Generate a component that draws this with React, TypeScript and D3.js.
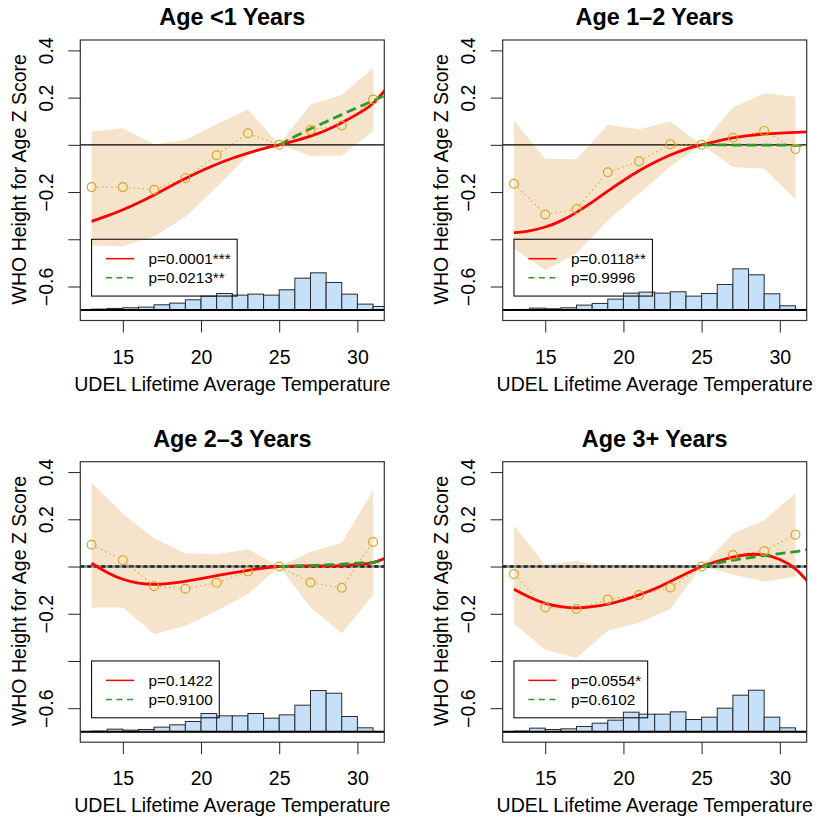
import React, { useRef, useEffect } from "react";
import * as d3 from "d3";

// temperatures of the binned means (every 2 degrees)
const binTemps = [13, 15, 17, 19, 21, 23, 25, 27, 29, 31];
const curveTemps = [13, 14, 15, 16, 17, 18, 19, 20, 21, 22, 23, 24, 25, 26, 27, 28, 29, 30, 31, 32];
const linearTemps = [25, 26, 27, 28, 29, 30, 31, 32];
// left edges of the 1-degree histogram bins
const histBins = [12, 13, 14, 15, 16, 17, 18, 19, 20, 21, 22, 23, 24, 25, 26, 27, 28, 29, 30, 31];

const titles = ["Age <1 Years", "Age 1\u20132 Years", "Age 2\u20133 Years", "Age 3+ Years"];
const pCubic = ["p=0.0001***", "p=0.0118**", "p=0.1422", "p=0.0554*"];
const pLinear = ["p=0.0213**", "p=0.9996", "p=0.9100", "p=0.6102"];

// binned means
const means1 = [-0.179, -0.179, -0.19, -0.141, -0.044, 0.049, 0, 0.063, 0.082, 0.192];
const means2 = [-0.165, -0.295, -0.272, -0.116, -0.07, 0.003, 0, 0.03, 0.059, -0.018];
const means3 = [0.092, 0.027, -0.083, -0.094, -0.069, -0.021, 0, -0.068, -0.09, 0.104];
const means4 = [-0.032, -0.173, -0.18, -0.14, -0.121, -0.089, 0, 0.049, 0.066, 0.135];

// confidence band
const hi1 = [0.056, 0.07, 0.003, 0.022, 0.088, 0.15, 0, 0.171, 0.211, 0.327];
const lo1 = [-0.426, -0.43, -0.388, -0.306, -0.179, -0.044, 0, -0.046, -0.046, 0.057];
const hi2 = [0.103, -0.059, -0.061, 0.085, 0.066, 0.099, 0, 0.159, 0.218, 0.204];
const lo2 = [-0.44, -0.53, -0.46, -0.32, -0.207, -0.092, 0, -0.094, -0.101, -0.232];
const hi3 = [0.355, 0.224, 0.12, 0.056, 0.052, 0.073, 0, 0.063, 0.101, 0.323];
const lo3 = [-0.173, -0.173, -0.286, -0.251, -0.187, -0.117, 0, -0.173, -0.283, -0.121];
const hi4 = [0.174, 0.007, 0.025, -0.006, -0.002, 0.004, 0, 0.14, 0.196, 0.31];
const lo4 = [-0.242, -0.352, -0.387, -0.272, -0.238, -0.18, 0, -0.034, -0.064, -0.042];

// cubic fit (red)
const cubic1 = [-0.324, -0.301, -0.275, -0.245, -0.212, -0.177, -0.143, -0.111, -0.082, -0.057, -0.035, -0.016, 0, 0.017, 0.037, 0.062, 0.094, 0.13, 0.176, 0.25];
const cubic2 = [-0.372, -0.364, -0.348, -0.322, -0.286, -0.243, -0.196, -0.151, -0.11, -0.074, -0.043, -0.018, 0, 0.016, 0.029, 0.039, 0.046, 0.05, 0.053, 0.055];
const cubic3 = [0.014, -0.025, -0.054, -0.07, -0.075, -0.071, -0.063, -0.051, -0.039, -0.027, -0.016, -0.007, 0, 0.002, 0.003, 0.003, 0.004, 0.009, 0.017, 0.042];
const cubic4 = [-0.096, -0.13, -0.156, -0.17, -0.175, -0.17, -0.159, -0.142, -0.12, -0.094, -0.063, -0.031, 0, 0.022, 0.04, 0.051, 0.049, 0.03, -0.01, -0.08];

// linear fit above 25 (green)
const linear1 = [0, 0.035, 0.068, 0.098, 0.128, 0.158, 0.187, 0.218];
const linear2 = [0, 0, -0.001, -0.001, -0.001, -0.001, -0.002, -0.002];
const linear3 = [0, 0.002, 0.004, 0.007, 0.01, 0.014, 0.018, 0.026];
const linear4 = [0, 0.014, 0.027, 0.037, 0.046, 0.055, 0.063, 0.076];

// temperature histogram (relative frequency, arbitrary units)
const hist1 = [1, 3, 5, 7, 9, 16, 21, 31, 42, 50, 45, 48, 45, 61, 96, 112, 83, 48, 18, 11];
const hist2 = [1, 2, 6, 4, 7, 15, 20, 33, 51, 54, 51, 55, 42, 50, 77, 124, 106, 49, 13, 2];
const hist3 = [1, 2, 8, 5, 7, 14, 21, 31, 55, 48, 48, 55, 41, 51, 80, 124, 116, 46, 12, 1];
const hist4 = [1, 2, 11, 7, 9, 16, 26, 35, 59, 53, 53, 60, 37, 44, 71, 110, 125, 44, 12, 1];

const yTicks = [0.4, 0.2, 0, -0.2, -0.4, -0.6];
const yLabelled = [0.4, 0.2, -0.2, -0.6];
const xTicks = [15, 20, 25, 30];

const panels = [
  { means: means1, hi: hi1, lo: lo1, cubic: cubic1, linear: linear1, hist: hist1 },
  { means: means2, hi: hi2, lo: lo2, cubic: cubic2, linear: linear2, hist: hist2 },
  { means: means3, hi: hi3, lo: lo3, cubic: cubic3, linear: linear3, hist: hist3 },
  { means: means4, hi: hi4, lo: lo4, cubic: cubic4, linear: linear4, hist: hist4 },
];

const FONT = "'Liberation Sans', Arial, Helvetica, sans-serif";
const GOLD = "#DAA520";
const GREEN = "#2A9A2A";

const App = () => {
  const svgRef = useRef<SVGSVGElement>(null);

  useEffect(() => {
    document.body.style.margin = "0";
    const svg = d3.select(svgRef.current);
    svg.selectAll("*").remove();

    panels.forEach((p, i) => {
      const col = i % 2;
      const row = Math.floor(i / 2);
      const left = col ? 502.7 : 80.3;
      const top = row ? 461.7 : 40;
      const w = 304;
      const h = 280.5;

      var x = d3.scaleLinear().domain([12.28, 31.72]).range([left, left + w]);
      var y = d3.scaleLinear().domain([-0.744, 0.444]).range([top + h, top]);
      // histogram heights to Z units
      var histH = d3.scaleLinear().domain([0, 100]).range([0, 0.141]);

      const g = svg.append("g");
      const clipId = "clip" + i;
      g.append("clipPath")
        .attr("id", clipId)
        .append("rect")
        .attr("x", left)
        .attr("y", top)
        .attr("width", w)
        .attr("height", h);
      const plot = g.append("g").attr("clip-path", `url(#${clipId})`);

      // confidence band
      const band = binTemps.map((t, k) => ({ t, lo: p.lo[k], hi: p.hi[k] }));
      plot
        .append("path")
        .datum(band)
        .attr(
          "d",
          d3
            .area<any>()
            .x((d) => x(d.t))
            .y0((d) => y(d.lo))
            .y1((d) => y(d.hi))
        )
        .attr("fill", "#F5E4CB");

      // zero line
      if (row === 0) {
        plot.append("line").attr("x1", left).attr("x2", left + w).attr("y1", y(0)).attr("y2", y(0))
          .attr("stroke", "#000").attr("stroke-width", 1.1);
      } else {
        plot.append("line").attr("x1", left).attr("x2", left + w).attr("y1", y(0)).attr("y2", y(0))
          .attr("stroke", "#8a8a8a").attr("stroke-width", 2.6);
        plot.append("line").attr("x1", left).attr("x2", left + w).attr("y1", y(0)).attr("y2", y(0))
          .attr("stroke", "#222").attr("stroke-width", 2.6).attr("stroke-dasharray", "4,3");
      }

      // histogram
      plot
        .selectAll(".bar")
        .data(p.hist)
        .enter()
        .append("rect")
        .attr("x", (d, k) => x(histBins[k]))
        .attr("width", (d, k) => x(histBins[k] + 1) - x(histBins[k]))
        .attr("y", (d) => y(-0.7 + histH(d)))
        .attr("height", (d) => y(-0.7) - y(-0.7 + histH(d)))
        .attr("fill", "#C6E0F9")
        .attr("stroke", "#2a2a2a")
        .attr("stroke-width", 1);
      plot.append("line").attr("x1", left).attr("x2", left + w).attr("y1", y(-0.7)).attr("y2", y(-0.7))
        .attr("stroke", "#000").attr("stroke-width", 2);

      // dotted line between binned means, with gaps round the circles
      const pts = binTemps.map((t, k) => [x(t), y(p.means[k])]);
      const r = 4.4;
      for (let k = 0; k < pts.length - 1; k++) {
        const [x1, y1] = pts[k];
        const [x2, y2] = pts[k + 1];
        const len = Math.hypot(x2 - x1, y2 - y1);
        const gap = r + 1.5;
        if (len <= 2 * gap) continue;
        const ux = (x2 - x1) / len;
        const uy = (y2 - y1) / len;
        plot
          .append("line")
          .attr("x1", x1 + ux * gap)
          .attr("y1", y1 + uy * gap)
          .attr("x2", x2 - ux * gap)
          .attr("y2", y2 - uy * gap)
          .attr("stroke", GOLD)
          .attr("stroke-width", 1.3)
          .attr("stroke-dasharray", "1.4,3.2")
          .attr("opacity", 0.85);
      }

      // cubic fit
      const cubicPts = curveTemps.map((t, k) => [t, p.cubic[k]]);
      plot
        .append("path")
        .datum(cubicPts)
        .attr("d", d3.line<any>().x((d) => x(d[0])).y((d) => y(d[1])).curve(d3.curveNatural))
        .attr("fill", "none")
        .attr("stroke", "#FF0000")
        .attr("stroke-width", 2.8);

      // linear fit above 25
      const linPts = linearTemps.map((t, k) => [t, p.linear[k]]);
      plot
        .append("path")
        .datum(linPts)
        .attr("d", d3.line<any>().x((d) => x(d[0])).y((d) => y(d[1])).curve(d3.curveNatural))
        .attr("fill", "none")
        .attr("stroke", GREEN)
        .attr("stroke-width", 2.8)
        .attr("stroke-dasharray", "10,5");

      // points
      plot
        .selectAll(".pt")
        .data(pts)
        .enter()
        .append("circle")
        .attr("cx", (d) => d[0])
        .attr("cy", (d) => d[1])
        .attr("r", r)
        .attr("fill", "none")
        .attr("stroke", GOLD)
        .attr("stroke-width", 1.2);

      // legend
      const lx = x(13);
      const ly = y(-0.4);
      const leg = g.append("g");
      const rows = [
        { label: pCubic[i], color: "#FF0000", dash: null },
        { label: pLinear[i], color: GREEN, dash: "6,4.5" },
      ];
      let maxW = 0;
      rows.forEach((rw, k) => {
        const yy = ly + 19.4 + k * 19;
        leg.append("line")
          .attr("x1", lx + 14.4).attr("x2", lx + 42.7).attr("y1", yy).attr("y2", yy)
          .attr("stroke", rw.color).attr("stroke-width", 1.5)
          .attr("stroke-dasharray", rw.dash);
        const t = leg.append("text")
          .attr("x", lx + 57).attr("y", yy + 5.4)
          .attr("font-family", FONT).attr("font-size", 15.3)
          .text(rw.label);
        const node = t.node() as SVGTextElement;
        maxW = Math.max(maxW, node.getComputedTextLength());
      });
      leg.append("rect")
        .attr("x", lx).attr("y", ly)
        .attr("width", 57 + maxW + 6.5).attr("height", 56.8)
        .attr("fill", "none").attr("stroke", "#111").attr("stroke-width", 1.1);

      // box
      g.append("rect")
        .attr("x", left).attr("y", top).attr("width", w).attr("height", h)
        .attr("fill", "none").attr("stroke", "#333").attr("stroke-width", 1.2);

      // axes
      const ya = g.append("g")
        .attr("transform", `translate(${left},0)`)
        .call(d3.axisLeft(y).tickValues(yTicks).tickSize(12)
          .tickFormat((d: any) => (yLabelled.includes(d) ? d3.format(".1f")(d).replace("-", "\u2212") : "")));
      ya.select(".domain").remove();
      ya.selectAll("line").attr("stroke", "#222");
      ya.selectAll("text")
        .attr("x", 0).attr("y", -27.6).attr("dy", 0)
        .attr("transform", "rotate(-90)")
        .attr("text-anchor", "middle")
        .attr("font-family", FONT).attr("font-size", 19.5).attr("fill", "#000");

      const xa = g.append("g")
        .attr("transform", `translate(0,${top + h})`)
        .call(d3.axisBottom(x).tickValues(xTicks).tickSize(12));
      xa.select(".domain").remove();
      xa.selectAll("line").attr("stroke", "#222");
      xa.selectAll("text")
        .attr("y", 43.3).attr("dy", 0)
        .attr("font-family", FONT).attr("font-size", 19.5).attr("fill", "#000");

      // labels
      g.append("text")
        .attr("x", left + w / 2).attr("y", top - 15)
        .attr("text-anchor", "middle")
        .attr("font-family", FONT).attr("font-size", 23.4).attr("font-weight", "bold")
        .text(titles[i]);
      g.append("text")
        .attr("x", left + w / 2).attr("y", top + h + 70)
        .attr("text-anchor", "middle")
        .attr("font-family", FONT).attr("font-size", 19.5)
        .text("UDEL Lifetime Average Temperature");
      g.append("text")
        .attr("transform", `translate(${left - 54.8},${top + h / 2 - 1}) rotate(-90)`)
        .attr("text-anchor", "middle")
        .attr("font-family", FONT).attr("font-size", 19.5)
        .text("WHO Height for Age Z Score");
    });
  }, []);

  return <svg ref={svgRef} width={820} height={817} style={{ display: "block", background: "#fff" }}></svg>;
};

export default App;
